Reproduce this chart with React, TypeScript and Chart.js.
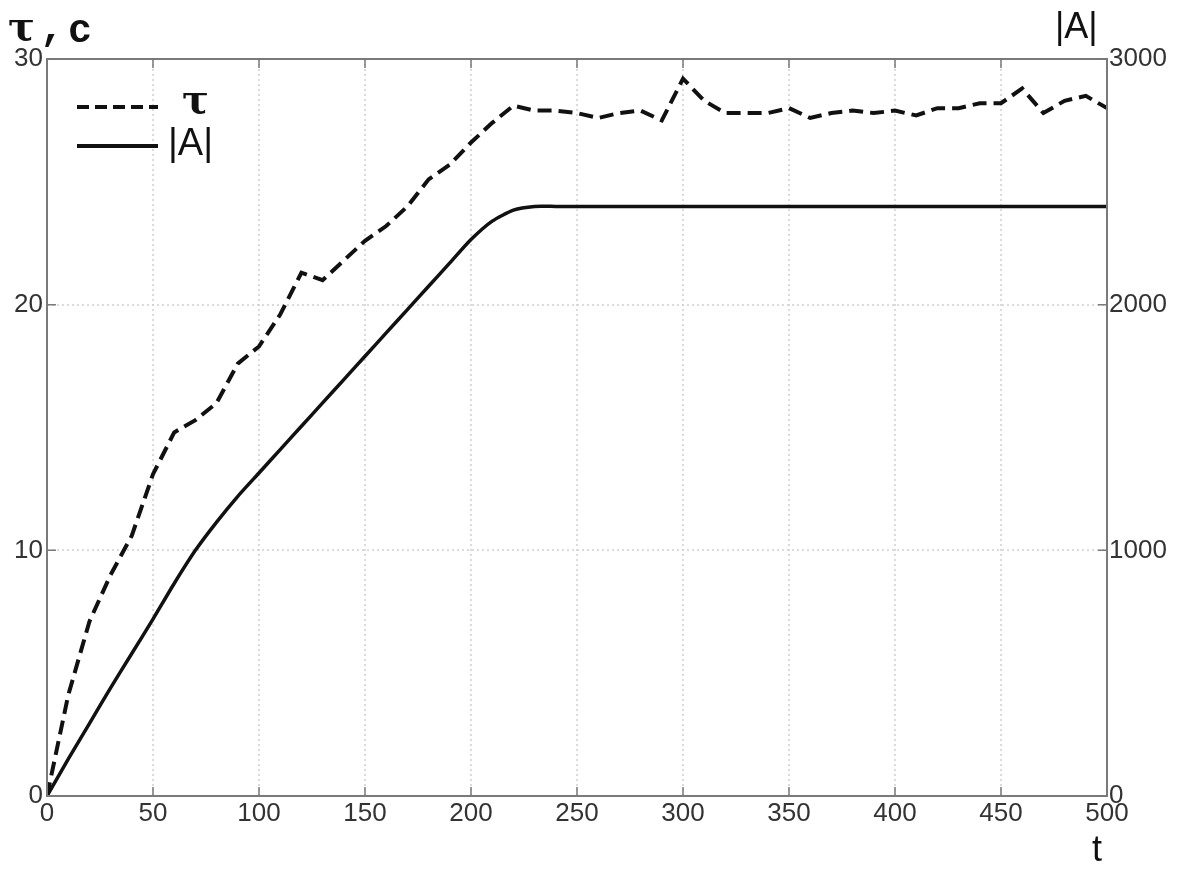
import React, { useEffect, useRef } from "react";
import { Chart, registerables } from "chart.js";

Chart.register(...registerables);

const tValues = [
  0, 10, 20, 30, 40, 50, 60, 70, 80, 90, 100, 110, 120, 130, 140, 150, 160, 170, 180, 190, 200,
  210, 220, 230, 240, 250, 260, 270, 280, 290, 300, 310, 320, 330, 340, 350, 360, 370, 380, 390,
  400, 410, 420, 430, 440, 450, 460, 470, 480, 490, 500,
];
const tauValues = [
  0, 4.1, 7.1, 9.0, 10.6, 13.1, 14.8, 15.3, 16.0, 17.6, 18.3, 19.6, 21.3, 21.0, 21.8, 22.6, 23.2,
  24.0, 25.1, 25.7, 26.6, 27.4, 28.1, 27.9, 27.9, 27.8, 27.6, 27.8, 27.9, 27.5, 29.2, 28.3, 27.8,
  27.8, 27.8, 28.0, 27.6, 27.8, 27.9, 27.8, 27.9, 27.7, 28.0, 28.0, 28.2, 28.2, 28.8, 27.8, 28.3,
  28.5, 28.0,
];
const aValues = [
  0, 150, 295, 440, 580, 720, 865, 1000, 1115, 1220, 1315, 1410, 1505, 1600, 1695, 1790, 1885,
  1980, 2075, 2170, 2265, 2340, 2385, 2400, 2400, 2400, 2400, 2400, 2400, 2400, 2400, 2400, 2400,
  2400, 2400, 2400, 2400, 2400, 2400, 2400, 2400, 2400, 2400, 2400, 2400, 2400, 2400, 2400, 2400,
  2400, 2400,
];
const xTicks = [0, 50, 100, 150, 200, 250, 300, 350, 400, 450, 500];
const leftTicks = [0, 10, 20, 30];
const rightTicks = [0, 1000, 2000, 3000];

const W = 1181;
const H = 869;
const SANS = "'Liberation Sans', Arial, sans-serif";

const decor = {
  id: "decor",
  beforeDatasetsDraw(chart: any) {
    const { ctx, chartArea: a, scales } = chart;
    ctx.save();
    ctx.strokeStyle = "#cfcfcf";
    ctx.lineWidth = 1.5;
    ctx.setLineDash([2, 3]);
    xTicks.slice(1, -1).forEach((v) => {
      const x = Math.round(scales.x.getPixelForValue(v));
      ctx.beginPath();
      ctx.moveTo(x, a.top);
      ctx.lineTo(x, a.bottom);
      ctx.stroke();
    });
    leftTicks.slice(1, -1).forEach((v) => {
      const y = Math.round(scales.y.getPixelForValue(v));
      ctx.beginPath();
      ctx.moveTo(a.left, y);
      ctx.lineTo(a.right, y);
      ctx.stroke();
    });
    ctx.restore();
  },
  afterDatasetsDraw(chart: any) {
    const { ctx, chartArea: a, scales } = chart;
    ctx.save();
    ctx.setLineDash([]);
    ctx.strokeStyle = "#7a7a7a";
    ctx.lineWidth = 2;
    ctx.strokeRect(a.left, a.top, a.right - a.left, a.bottom - a.top);
    ctx.lineWidth = 1.5;
    const tl = 9;
    xTicks.forEach((v) => {
      const x = scales.x.getPixelForValue(v);
      ctx.beginPath();
      ctx.moveTo(x, a.bottom);
      ctx.lineTo(x, a.bottom - tl);
      ctx.moveTo(x, a.top);
      ctx.lineTo(x, a.top + tl);
      ctx.stroke();
    });
    leftTicks.forEach((v) => {
      const y = scales.y.getPixelForValue(v);
      ctx.beginPath();
      ctx.moveTo(a.left, y);
      ctx.lineTo(a.left + tl, y);
      ctx.moveTo(a.right, y);
      ctx.lineTo(a.right - tl, y);
      ctx.stroke();
    });

    // legend
    ctx.strokeStyle = "#111";
    ctx.lineWidth = 4;
    ctx.setLineDash([12, 6]);
    ctx.beginPath();
    ctx.moveTo(77, 107);
    ctx.lineTo(158, 107);
    ctx.stroke();
    ctx.setLineDash([]);
    ctx.beginPath();
    ctx.moveTo(77, 146);
    ctx.lineTo(158, 146);
    ctx.stroke();

    ctx.fillStyle = "#111";
    ctx.textBaseline = "middle";
    ctx.textAlign = "left";
    ctx.font = "bold 40px 'DejaVu Serif', serif";
    ctx.fillText("τ", 182, 103);
    ctx.font = "38px " + SANS;
    ctx.fillText("|A|", 168, 145);

    // axis titles
    ctx.font = "bold 40px 'DejaVu Serif', serif";
    ctx.fillText("τ", 8, 30);
    ctx.font = "bold 40px 'Liberation Mono', monospace";
    ctx.fillText(",", 40, 30);
    ctx.fillText("c", 68, 32);
    ctx.font = "36px " + SANS;
    ctx.fillText("|A|", 1055, 28);
    ctx.textAlign = "center";
    ctx.fillText("t", 1097, 851);
    ctx.restore();
  },
};

export default function App() {
  const ref = useRef<HTMLCanvasElement | null>(null);
  useEffect(() => {
    document.body.style.margin = "0";
    const canvas = ref.current!;
    const chart = new Chart(canvas, {
      type: "line",
      data: {
        datasets: [
          {
            label: "τ",
            data: tValues.map((t, i) => ({ x: t, y: tauValues[i] })),
            yAxisID: "y",
            borderColor: "#111",
            borderWidth: 4,
            borderDash: [14, 7],
            pointRadius: 0,
            tension: 0,
            fill: false,
          },
          {
            label: "|A|",
            data: tValues.map((t, i) => ({ x: t, y: aValues[i] })),
            yAxisID: "y1",
            borderColor: "#111",
            borderWidth: 3.5,
            pointRadius: 0,
            tension: 0.2,
            fill: false,
          },
        ],
      },
      options: {
        animation: false,
        responsive: false,
        events: [],
        layout: { padding: { top: 59, left: 0, right: 0, bottom: 0 } },
        plugins: { legend: { display: false }, tooltip: { enabled: false } },
        scales: {
          x: {
            type: "linear",
            min: 0,
            max: 500,
            afterBuildTicks: (s: any) => {
              s.ticks = xTicks.map((v) => ({ value: v }));
            },
            afterFit: (s: any) => {
              s.height = 73;
            },
            grid: { display: false, drawTicks: false },
            border: { display: false },
            ticks: {
              color: "#333",
              font: { family: SANS, size: 26 },
              padding: 2,
              maxRotation: 0,
              autoSkip: false,
              callback: (v: any) => String(v),
            },
          },
          y: {
            type: "linear",
            position: "left",
            min: 0,
            max: 30,
            afterBuildTicks: (s: any) => {
              s.ticks = leftTicks.map((v) => ({ value: v }));
            },
            afterFit: (s: any) => {
              s.width = 47;
            },
            grid: { display: false, drawTicks: false },
            border: { display: false },
            ticks: {
              color: "#333",
              font: { family: SANS, size: 26 },
              padding: 4,
              callback: (v: any) => String(v),
            },
          },
          y1: {
            type: "linear",
            position: "right",
            min: 0,
            max: 3000,
            afterBuildTicks: (s: any) => {
              s.ticks = rightTicks.map((v) => ({ value: v }));
            },
            afterFit: (s: any) => {
              s.width = 74;
            },
            grid: { display: false, drawTicks: false },
            border: { display: false },
            ticks: {
              color: "#333",
              font: { family: SANS, size: 26 },
              padding: 2,
              callback: (v: any) => String(v),
            },
          },
        },
      },
      plugins: [decor],
    });
    return () => chart.destroy();
  }, []);
  return (
    <div style={{ width: W, height: H, background: "#fff" }}>
      <canvas ref={ref} width={W} height={H} style={{ display: "block" }} />
    </div>
  );
}
